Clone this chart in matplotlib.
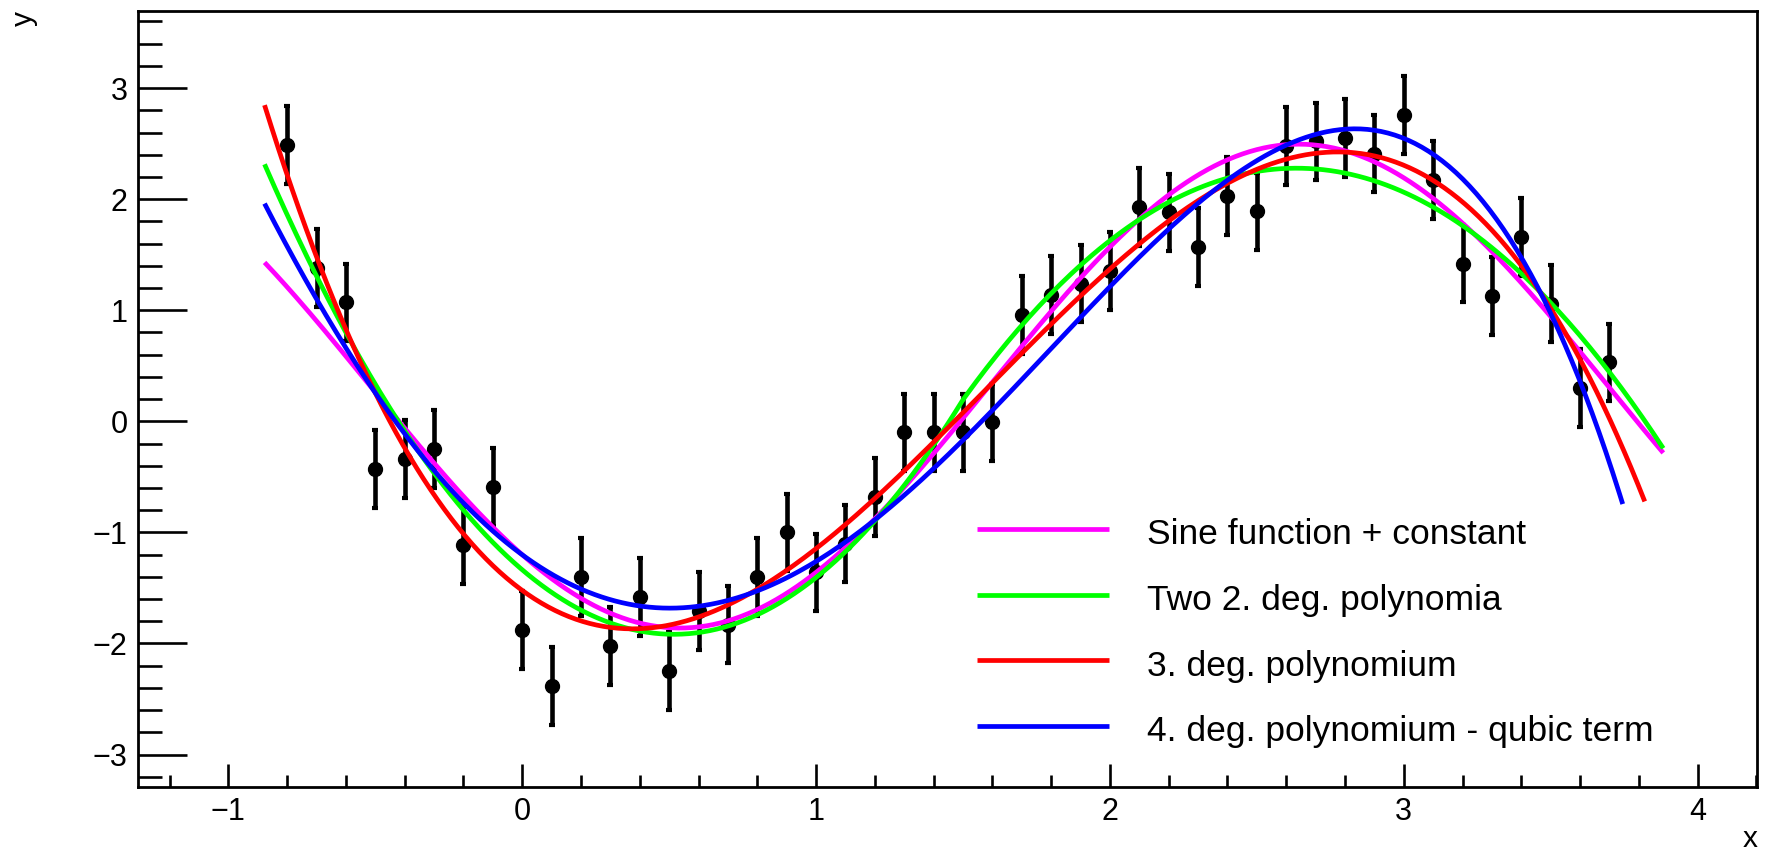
import numpy as np
import matplotlib
matplotlib.use("Agg")
import matplotlib.pyplot as plt
from matplotlib.lines import Line2D
from matplotlib.ticker import MultipleLocator

plt.rcParams['font.family'] = ['Liberation Sans', 'DejaVu Sans']

# data points
x_data = [-0.8, -0.7, -0.6, -0.5, -0.4, -0.3, -0.2, -0.1, 0.0, 0.1,
          0.2, 0.3, 0.4, 0.5, 0.6, 0.7, 0.8, 0.9, 1.0, 1.1,
          1.2, 1.3, 1.4, 1.5, 1.6, 1.7, 1.8, 1.9, 2.0, 2.1,
          2.2, 2.3, 2.4, 2.5, 2.6, 2.7, 2.8, 2.9, 3.0, 3.1,
          3.2, 3.3, 3.4, 3.5, 3.6, 3.7]
y_data = [2.49, 1.38, 1.07, -0.43, -0.34, -0.25, -1.11, -0.59, -1.88, -2.38,
          -1.40, -2.02, -1.58, -2.25, -1.71, -1.83, -1.40, -1.00, -1.36, -1.10,
          -0.68, -0.10, -0.10, -0.10, -0.01, 0.96, 1.14, 1.24, 1.35, 1.93,
          1.88, 1.57, 2.03, 1.89, 2.48, 2.52, 2.55, 2.41, 2.76, 2.17,
          1.42, 1.13, 1.66, 1.06, 0.30, 0.53]
y_err = [0.35] * len(x_data)

labels = ["Sine function + constant", "Two 2. deg. polynomia",
          "3. deg. polynomium", "4. deg. polynomium - qubic term"]
colors = ["#ff00ff", "#00ff00", "#ff0000", "#0000ff"]
curve_start = -0.877
curve_end = [3.883, 3.883, 3.82, 3.745]
split_x = 1.5

x = np.array(x_data)
y = np.array(y_data)


# ---- fits (least squares, constant errors)
def fit_sine(x, y):
    best = None
    for b in np.arange(0.8, 2.5, 0.0005):
        A = np.column_stack([np.sin(b * x), np.cos(b * x), np.ones_like(x)])
        coef = np.linalg.lstsq(A, y, rcond=None)[0]
        r = np.sum((A @ coef - y) ** 2)
        if best is None or r < best[0]:
            best = (r, b, coef)
    _, b, c = best
    return lambda t: c[0] * np.sin(b * t) + c[1] * np.cos(b * t) + c[2]


def two_pol2_basis(t):
    d = t - split_x
    lo = (t < split_x).astype(float)
    hi = 1.0 - lo
    return np.column_stack([np.ones_like(t), d * lo, d * d * lo, d * hi, d * d * hi])


def fit_two_pol2(x, y):
    c = np.linalg.lstsq(two_pol2_basis(x), y, rcond=None)[0]
    return lambda t: two_pol2_basis(t) @ c


def fit_pol3(x, y):
    p = np.polyfit(x, y, 3)
    return lambda t: np.polyval(p, t)


def pol4_nocubic_basis(t):
    return np.column_stack([np.ones_like(t), t, t ** 2, t ** 4])


def fit_pol4_nocubic(x, y):
    c = np.linalg.lstsq(pol4_nocubic_basis(x), y, rcond=None)[0]
    return lambda t: pol4_nocubic_basis(t) @ c


funcs = [fit_sine(x, y), fit_two_pol2(x, y), fit_pol3(x, y), fit_pol4_nocubic(x, y)]

# ---- figure
fig = plt.figure(figsize=(17.71, 8.52), dpi=100)
ax = fig.add_axes([0.0782, 0.0759, 0.9139, 0.9112])

ax.errorbar(x, y, yerr=y_err, fmt='o', color='black', ms=10,
            elinewidth=3.3, capsize=2.5, capthick=3.0, zorder=2)

for f, col, xe in zip(funcs, colors, curve_end):
    t = np.linspace(curve_start, xe, 400)
    ax.plot(t, f(t), color=col, lw=3.4, zorder=3, solid_capstyle='butt')

ax.set_xlim(-1.306, 4.202)
ax.set_ylim(-3.295, 3.694)

for s in ax.spines.values():
    s.set_linewidth(2.0)

ax.xaxis.set_major_locator(MultipleLocator(1))
ax.xaxis.set_minor_locator(MultipleLocator(0.2))
ax.yaxis.set_major_locator(MultipleLocator(1))
ax.yaxis.set_minor_locator(MultipleLocator(0.2))
ax.tick_params(which='both', direction='in', top=False, right=False, width=1.9)
ax.tick_params(axis='x', which='major', length=16.5, pad=7, labelsize=22)
ax.tick_params(axis='x', which='minor', length=8.3)
ax.tick_params(axis='y', which='major', length=35, pad=8, labelsize=22)
ax.tick_params(axis='y', which='minor', length=17.5)

# axis titles, ROOT style at the ends of the axes
fig.text(24 / 1771, 1 - 19 / 852, "y", rotation=90, ha='center', va='center', fontsize=21.5)
fig.text(1758 / 1771, 5 / 852, "x", ha='right', va='baseline', fontsize=21.5)

# legend without frame
W, H = 1771.0, 852.0
line_y = [529, 594.7, 660.3, 726]
for lab, col, ly in zip(labels, colors, line_y):
    fig.add_artist(Line2D([977 / W, 1109 / W], [1 - ly / H, 1 - ly / H],
                          color=col, lw=3.4, solid_capstyle='butt'))
    fig.text(1146.7 / W, 1 - (ly + 15.3) / H, lab, ha='left', va='baseline', fontsize=25.5)

fig.savefig("out.png", dpi=100)
